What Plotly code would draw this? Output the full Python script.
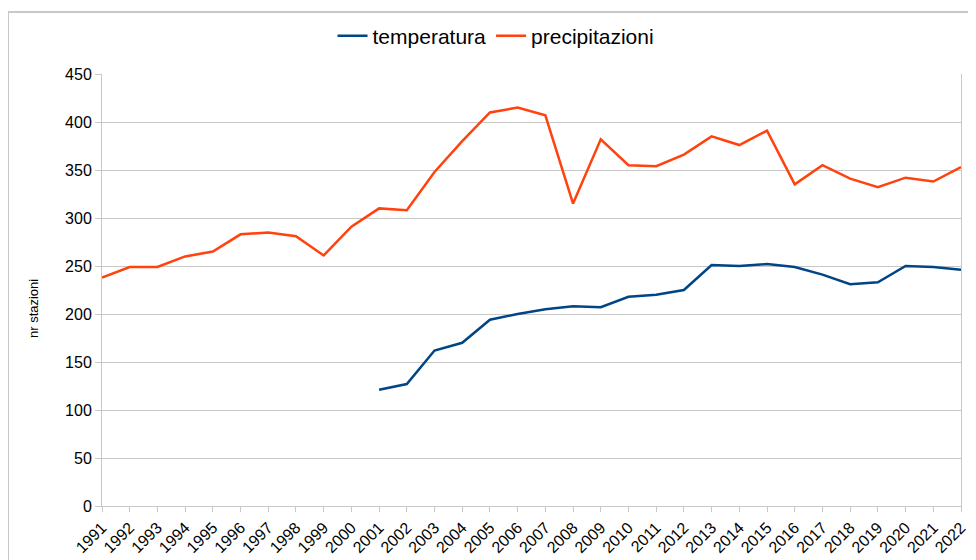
import plotly.graph_objects as go

years = list(range(1991, 2023))
temperatura = [None, None, None, None, None, None, None, None, None, None,
               121, 127, 162, 170, 194, 200, 205, 208, 207, 218,
               220, 225, 251, 250, 252, 249, 241, 231, 233, 250,
               249, 246]
precipitazioni = [238, 249, 249, 260, 265, 283, 285, 281, 261, 291,
                  310, 308, 348, 380, 410, 415, 407, 315, 382, 355,
                  354, 366, 385, 376, 391, 335, 355, 341, 332, 342,
                  338, 353]
y_ticks = [0, 50, 100, 150, 200, 250, 300, 350, 400, 450]

fig = go.Figure()
fig.add_trace(go.Scatter(x=years, y=temperatura, mode="lines", name="temperatura",
                         line=dict(color="#004586", width=2.5)))
fig.add_trace(go.Scatter(x=years, y=precipitazioni, mode="lines", name="precipitazioni",
                         line=dict(color="#ff420e", width=2.5)))

grid = "#c8c8c8"
fig.update_layout(
    width=968, height=552,
    margin=dict(l=94, r=15, t=66, b=54, autoexpand=False),
    paper_bgcolor="white", plot_bgcolor="white",
    font=dict(family="Liberation Sans, Arial, sans-serif", color="black"),
    showlegend=True,
    legend=dict(orientation="h", x=0.4587, xanchor="center", y=1.0876, yanchor="middle",
                font=dict(size=21), itemwidth=30, traceorder="normal"),
    xaxis=dict(range=[1991, 2022], tickmode="array", tickvals=years,
               ticktext=[str(y) for y in years], tickangle=-45, automargin=False,
               tickfont=dict(size=16), showgrid=False, showline=True,
               linecolor=grid, linewidth=1, ticks="outside", tickcolor=grid,
               ticklen=5, zeroline=False),
    yaxis=dict(range=[0, 450], tickmode="array", tickvals=y_ticks, automargin=False,
               tickfont=dict(size=16), showgrid=True, gridcolor=grid, gridwidth=1,
               showline=True, linecolor=grid, linewidth=1, mirror=True,
               ticks="outside", tickcolor=grid, ticklen=6, zeroline=False),
    annotations=[dict(text="nr stazioni", xref="paper", yref="paper",
                      x=-0.0803, y=0.456, textangle=-90, showarrow=False,
                      font=dict(size=13), xanchor="center", yanchor="middle")],
    shapes=[dict(type="rect", xref="paper", yref="paper",
                 x0=-0.1094, x1=1.2, y0=-0.3, y1=1.1435,
                 line=dict(color="#c8c8c8", width=2), fillcolor="rgba(0,0,0,0)",
                 layer="below")],
)

fig.write_html("out.html")
